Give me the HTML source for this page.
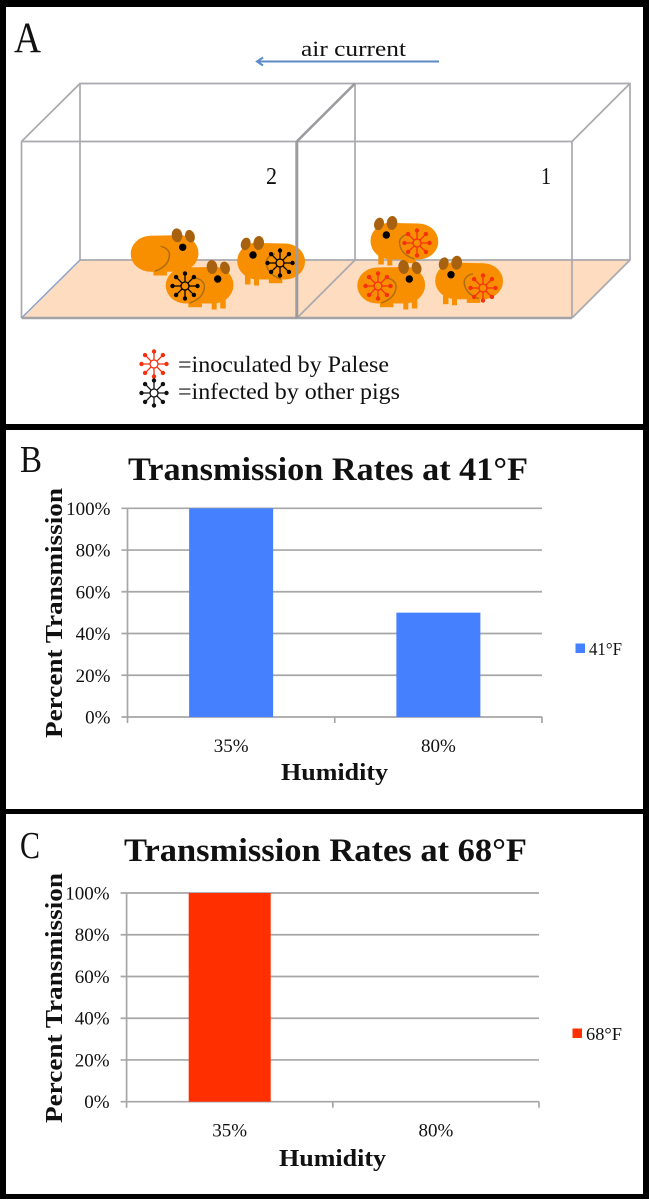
<!DOCTYPE html>
<html>
<head>
<meta charset="utf-8">
<title>Transmission figure</title>
<style>
html,body{margin:0;padding:0;background:#fff;}
svg{display:block;}
text{font-family:"Liberation Serif","DejaVu Serif",serif;fill:#111;}
</style>
</head>
<body>
<svg id="fig" xmlns="http://www.w3.org/2000/svg" width="649" height="1200" viewBox="0 0 649 1200">
<defs>
  <g id="pig">
    <rect x="22.7" y="38" width="13.5" height="9.2" fill="#f78f00"/>
    <rect x="46" y="38" width="5" height="11.5" fill="#f78f00"/>
    <rect x="54.5" y="38" width="5.5" height="10.5" fill="#f78f00"/>
    <ellipse cx="20" cy="25.5" rx="20" ry="18" fill="#f78f00"/>
    <ellipse cx="47.5" cy="25" rx="20.3" ry="18.5" fill="#f78f00"/>
    <path d="M20 7.5 L45 7 L50 43.5 L20 43.5 Z" fill="#f78f00"/>
    <ellipse cx="46.3" cy="7" rx="5.3" ry="7" fill="#a8620f" transform="rotate(-6 46.3 7)"/>
    <ellipse cx="59.3" cy="7.9" rx="4.8" ry="6.4" fill="#a8620f" transform="rotate(-18 59.3 7.9)"/>
    <path d="M30 18 Q38 20 38.8 26 Q38.5 38 24 43" fill="none" stroke="#b06c10" stroke-width="1.5"/>
    <circle cx="52" cy="19" r="3.7" fill="#000"/>
  </g>
  <g id="virus">
    <circle r="4" fill="none" stroke="currentColor" stroke-width="1.3"/>
    <path d="M0 -4V-12.5M0 4V12.5M-4 0H-12.5M4 0H12.5M2.8 -2.8L8.9 -8.9M-2.8 -2.8L-8.9 -8.9M2.8 2.8L8.9 8.9M-2.8 2.8L-8.9 8.9" stroke="currentColor" stroke-width="1.3" fill="none"/>
    <g fill="currentColor">
      <circle cy="-12.5" r="2.2"/><circle cy="12.5" r="2.2"/><circle cx="-12.5" r="2.2"/><circle cx="12.5" r="2.2"/>
      <circle cx="8.9" cy="-8.9" r="2.2"/><circle cx="-8.9" cy="-8.9" r="2.2"/><circle cx="8.9" cy="8.9" r="2.2"/><circle cx="-8.9" cy="8.9" r="2.2"/>
    </g>
  </g>
</defs>

<rect width="649" height="1200" fill="#fff"/>

<!-- panel frames -->
<g fill="#000">
  <rect x="0" y="0" width="649" height="7"/>
  <rect x="0" y="424" width="649" height="6"/>
  <rect x="0" y="809" width="649" height="5"/>
  <rect x="0" y="1194" width="649" height="5"/>
  <rect x="0" y="0" width="6" height="1199"/>
  <rect x="643" y="0" width="6" height="1199"/>
</g>

<!-- Panel A -->
<g>
  <text x="14" y="52" font-size="43" textLength="27" lengthAdjust="spacingAndGlyphs">A</text>
  <text x="301" y="56" font-size="22" textLength="105" lengthAdjust="spacingAndGlyphs">air current</text>
  <g stroke="#5b8ac4" stroke-width="2" fill="none">
    <path d="M439 61.5H257"/>
    <path d="M263 57.5L257 61.5L263 65.5"/>
  </g>
  <polygon points="21.5,318 572,318 630,260 80,260" fill="#fddcc0"/>
  <g fill="none" stroke="#a9a9ae" stroke-width="1.7">
    <path d="M80 83.5H630V260H80Z"/>
    <path d="M355 83.5V260"/>
    <path d="M21.5 141.5L80 83.5"/>
    <path d="M572 141.5L630 83.5"/>
    <path d="M297 318L355 260"/>
    <path d="M572 318L630 260"/>
  </g>
  <use href="#pig" transform="translate(130.7,228.3)"/>
  <g>
    <use href="#pig" transform="translate(165.7,260)"/>
    <use href="#virus" x="185" y="286" color="#000"/>
  </g>
  <g>
    <use href="#pig" transform="translate(305,236) scale(-1,1)"/>
    <use href="#virus" x="280" y="263" color="#000"/>
  </g>
  <g>
    <use href="#pig" transform="translate(438.3,216) scale(-1,1)"/>
    <use href="#virus" x="417" y="243" color="#f5310f"/>
  </g>
  <g>
    <use href="#pig" transform="translate(357.3,260)"/>
    <use href="#virus" x="378" y="286" color="#f5310f"/>
  </g>
  <g>
    <use href="#pig" transform="translate(503,255.7) scale(-1,1)"/>
    <use href="#virus" x="483" y="288" color="#f5310f"/>
  </g>
  <g fill="none">
    <path d="M21.5 141.5H572V318" stroke="#a9a9ae" stroke-width="1.7"/>
    <path d="M21.5 141.5V318" stroke="#a9a9ae" stroke-width="1.7"/>
    <path d="M21.5 318L80 260" stroke="#8aa3cc" stroke-width="1.5"/>
    <path d="M21.5 318H572" stroke="#a3a3a6" stroke-width="2.6"/>
    <path d="M296.8 141.5V318.5" stroke="#9c9ca0" stroke-width="3"/>
    <path d="M296.8 141.5L355 83.5" stroke="#9c9ca0" stroke-width="2.6"/>
  </g>
  <text x="266" y="184" font-size="24" textLength="11" lengthAdjust="spacingAndGlyphs">2</text>
  <text x="541" y="184" font-size="24" textLength="10" lengthAdjust="spacingAndGlyphs">1</text>
  <use href="#virus" x="154" y="364" color="#f5310f"/>
  <use href="#virus" x="154" y="393" color="#111"/>
  <text x="178" y="372" font-size="23" textLength="211" lengthAdjust="spacingAndGlyphs">=inoculated by Palese</text>
  <text x="178" y="399" font-size="23" textLength="222" lengthAdjust="spacingAndGlyphs">=infected by other pigs</text>
</g>

<g id="panel-b">
  <text x="20" y="472" font-size="38" textLength="22" lengthAdjust="spacingAndGlyphs">B</text>
</g>
<g id="panel-c">
  <text x="20" y="858" font-size="38" textLength="20" lengthAdjust="spacingAndGlyphs">C</text>
</g>
</svg>

<script>
var categories = ['35%', '80%'];
var values41 = [100, 50];
var values68 = [100, 0];
var yTicks = [0, 20, 40, 60, 80, 100];
var xAxisTitle = 'Humidity';
var yAxisTitle = 'Percent Transmission';
var titleB = 'Transmission Rates at 41\u00B0F';
var titleC = 'Transmission Rates at 68\u00B0F';
var seriesNameB = '41\u00B0F';
var seriesNameC = '68\u00B0F';

var NS = 'http://www.w3.org/2000/svg';

function make(parent, tag, props) {
  var el = document.createElementNS(NS, tag);
  for (var k in props) { el.setAttribute(k, props[k]); }
  parent.appendChild(el);
  return el;
}

function drawChart(parent, cfg) {
  var yScale = function (v) { return cfg.y0 + (cfg.y100 - cfg.y0) * v / 100; };
  var band = (cfg.x1 - cfg.x0) / cfg.categories.length;
  var xCenter = function (i) { return cfg.x0 + band * (i + 0.5); };

  var title = make(parent, 'text', {x: cfg.titleX, y: cfg.titleY, 'font-size': 33, 'font-weight': 'bold', textLength: cfg.titleW, lengthAdjust: 'spacingAndGlyphs'});
  
  
  title.textContent = cfg.title;

  yTicks.forEach(function (t) {
    var y = yScale(t);
    var grid = make(parent, 'line', {x1: cfg.x0 - 6, x2: cfg.x1, y1: y, y2: y, stroke: '#a6a6a6', 'stroke-width': 1.7});
    
    
    var label = make(parent, 'text', {x: cfg.x0 - 17, y: y + 6.5, 'font-size': 19, 'text-anchor': 'end'});
    
    
    label.textContent = t + '%';
  });

  var axis = make(parent, 'line', {x1: cfg.x0, x2: cfg.x0, y1: cfg.y100, y2: cfg.y0 + 6, stroke: '#a6a6a6', 'stroke-width': 1.7});
  
  

  for (var k = 1; k <= cfg.categories.length; k++) {
    var tx = cfg.x0 + band * k;
    var tick = make(parent, 'line', {x1: tx, x2: tx, y1: cfg.y0, y2: cfg.y0 + 6, stroke: '#a6a6a6', 'stroke-width': 1.7});
    
    
  }

  cfg.categories.forEach(function (c, i) {
    var top = yScale(cfg.values[i]);
    var bar = make(parent, 'rect', {x: xCenter(i) - cfg.barW / 2, y: top, width: cfg.barW, height: cfg.y0 - top, fill: cfg.color});
    
    
    var lab = make(parent, 'text', {x: xCenter(i), y: cfg.y0 + 35, 'font-size': 19, 'text-anchor': 'middle'});
    
    
    lab.textContent = c;
  });

  var xt = make(parent, 'text', {x: cfg.xTitleX, y: cfg.xTitleY, 'font-size': 24, 'font-weight': 'bold', textLength: 107, lengthAdjust: 'spacingAndGlyphs'});
  
  
  xt.textContent = xAxisTitle;

  var yt = make(parent, 'text', {transform: 'translate(' + cfg.yTitleX + ',' + cfg.yTitleBottom + ') rotate(-90)', 'font-size': 24, 'font-weight': 'bold', textLength: 250, lengthAdjust: 'spacingAndGlyphs'});
  
  
  yt.textContent = yAxisTitle;

  var swatch = make(parent, 'rect', {x: cfg.legendX, y: cfg.legendY, width: 9.5, height: 9.5, fill: cfg.color});
  
  
  var lt = make(parent, 'text', {x: cfg.legendX + 13.5, y: cfg.legendY + 11.5, 'font-size': 18, textLength: cfg.legendW, lengthAdjust: 'spacingAndGlyphs'});
  
  
  lt.textContent = cfg.seriesName;
}

drawChart(document.getElementById('panel-b'), {
  categories: categories, values: values41, title: titleB, seriesName: seriesNameB, color: '#4480ff',
  x0: 127.5, x1: 542, y0: 717, y100: 508.3, barW: 84,
  titleX: 128, titleY: 480, titleW: 400, xTitleX: 281, xTitleY: 780, yTitleX: 62, yTitleBottom: 738,
  legendX: 575.5, legendY: 643.5, legendW: 33
});

drawChart(document.getElementById('panel-c'), {
  categories: categories, values: values68, title: titleC, seriesName: seriesNameC, color: '#ff2f00',
  x0: 126.6, x1: 539, y0: 1101.7, y100: 893, barW: 82,
  titleX: 124, titleY: 861, titleW: 403, xTitleX: 279, xTitleY: 1166, yTitleX: 62, yTitleBottom: 1123,
  legendX: 572.5, legendY: 1028.5, legendW: 36
});
</script>
</body>
</html>
